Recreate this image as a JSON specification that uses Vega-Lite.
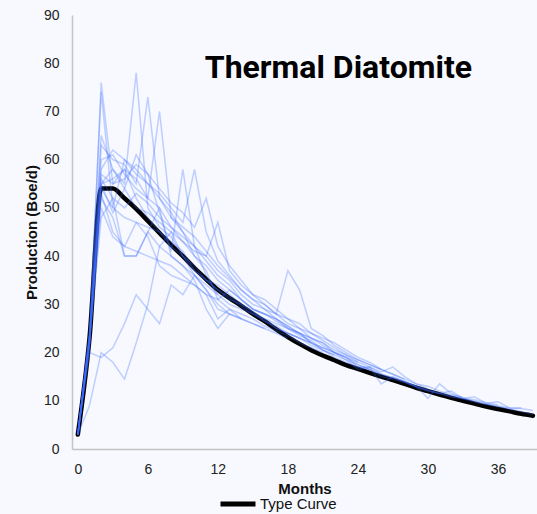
{
"$schema":"https://vega.github.io/schema/vega-lite/v6.json",
"width":465,"height":434,
"autosize":{"type":"none"},
"padding":{"left":72,"top":15,"right":0,"bottom":65},
"background":"#F7F9FE",
"title":{"text":"Thermal Diatomite","font":"Roboto","fontSize":32,"fontWeight":"bold","color":"#000000","anchor":"end","frame":"group","dx":-65,"dy":102,"offset":0,"baseline":"alphabetic"},
"datasets":{
"tc":[
{"s":"Type Curve","m":0,"p":3},{"s":"Type Curve","m":1,"p":23},{"s":"Type Curve","m":2,"p":54},{"s":"Type Curve","m":3,"p":54},{"s":"Type Curve","m":4,"p":52},{"s":"Type Curve","m":5,"p":49.8},{"s":"Type Curve","m":6,"p":47.3},{"s":"Type Curve","m":7,"p":44.8},{"s":"Type Curve","m":8,"p":42.3},{"s":"Type Curve","m":9,"p":40},{"s":"Type Curve","m":10,"p":37.5},{"s":"Type Curve","m":11,"p":35.2},{"s":"Type Curve","m":12,"p":33},{"s":"Type Curve","m":13,"p":31.3},{"s":"Type Curve","m":14,"p":29.7},{"s":"Type Curve","m":15,"p":28},{"s":"Type Curve","m":16,"p":26.5},{"s":"Type Curve","m":17,"p":24.8},{"s":"Type Curve","m":18,"p":23.2},{"s":"Type Curve","m":19,"p":21.8},{"s":"Type Curve","m":20,"p":20.5},{"s":"Type Curve","m":21,"p":19.4},{"s":"Type Curve","m":22,"p":18.4},{"s":"Type Curve","m":23,"p":17.4},{"s":"Type Curve","m":24,"p":16.6},{"s":"Type Curve","m":25,"p":15.8},{"s":"Type Curve","m":26,"p":15},{"s":"Type Curve","m":27,"p":14.3},{"s":"Type Curve","m":28,"p":13.5},{"s":"Type Curve","m":29,"p":12.7},{"s":"Type Curve","m":30,"p":12},{"s":"Type Curve","m":31,"p":11.3},{"s":"Type Curve","m":32,"p":10.6},{"s":"Type Curve","m":33,"p":10},{"s":"Type Curve","m":34,"p":9.4},{"s":"Type Curve","m":35,"p":8.8},{"s":"Type Curve","m":36,"p":8.3},{"s":"Type Curve","m":37,"p":7.8},{"s":"Type Curve","m":38,"p":7.3},{"s":"Type Curve","m":39,"p":6.9}
],
"wells":[
{"w":"W1","m":0,"p":3},{"w":"W1","m":1,"p":22},{"w":"W1","m":2,"p":76},{"w":"W1","m":3,"p":55},{"w":"W1","m":4,"p":58},{"w":"W1","m":5,"p":56},{"w":"W1","m":6,"p":52},{"w":"W1","m":7,"p":50},{"w":"W1","m":8,"p":46},{"w":"W1","m":9,"p":44},{"w":"W1","m":10,"p":42},{"w":"W1","m":11,"p":39},{"w":"W1","m":12,"p":36},{"w":"W1","m":13,"p":34},{"w":"W1","m":14,"p":31},{"w":"W1","m":15,"p":29},{"w":"W1","m":16,"p":28},{"w":"W1","m":17,"p":26.5},{"w":"W1","m":18,"p":25},{"w":"W1","m":19,"p":24},{"w":"W1","m":20,"p":22},{"w":"W1","m":21,"p":21},{"w":"W1","m":22,"p":20},{"w":"W1","m":23,"p":18.5},{"w":"W1","m":24,"p":17.5},{"w":"W1","m":25,"p":16.5},{"w":"W1","m":26,"p":15.5},{"w":"W1","m":27,"p":14.8},{"w":"W1","m":28,"p":14},{"w":"W1","m":29,"p":13},{"w":"W1","m":30,"p":12.2},{"w":"W1","m":31,"p":11.6},{"w":"W1","m":32,"p":11},{"w":"W1","m":33,"p":10.4},{"w":"W1","m":34,"p":9.8},{"w":"W1","m":35,"p":9.3},{"w":"W1","m":36,"p":8.8},{"w":"W1","m":37,"p":8.3},{"w":"W1","m":38,"p":7.8},{"w":"W1","m":39,"p":7.2},
{"w":"W2","m":0,"p":3},{"w":"W2","m":1,"p":24},{"w":"W2","m":2,"p":74},{"w":"W2","m":3,"p":50},{"w":"W2","m":4,"p":60},{"w":"W2","m":5,"p":57},{"w":"W2","m":6,"p":55},{"w":"W2","m":7,"p":52},{"w":"W2","m":8,"p":48},{"w":"W2","m":9,"p":45},{"w":"W2","m":10,"p":42},{"w":"W2","m":11,"p":40},{"w":"W2","m":12,"p":37},{"w":"W2","m":13,"p":35},{"w":"W2","m":14,"p":32},{"w":"W2","m":15,"p":30},{"w":"W2","m":16,"p":29},{"w":"W2","m":17,"p":27},{"w":"W2","m":18,"p":25.5},{"w":"W2","m":19,"p":24},{"w":"W2","m":20,"p":23},{"w":"W2","m":21,"p":21.5},{"w":"W2","m":22,"p":20},{"w":"W2","m":23,"p":19},{"w":"W2","m":24,"p":17},{"w":"W2","m":25,"p":16.5},{"w":"W2","m":26,"p":15},{"w":"W2","m":27,"p":14.5},{"w":"W2","m":28,"p":13.8},{"w":"W2","m":29,"p":13},{"w":"W2","m":30,"p":12.2},{"w":"W2","m":31,"p":11.5},{"w":"W2","m":32,"p":10.8},{"w":"W2","m":33,"p":10.5},{"w":"W2","m":34,"p":9.9},{"w":"W2","m":35,"p":9.3},{"w":"W2","m":36,"p":8.9},{"w":"W2","m":37,"p":8.5},{"w":"W2","m":38,"p":8.4},{"w":"W2","m":39,"p":8},
{"w":"W3","m":0,"p":3},{"w":"W3","m":1,"p":23},{"w":"W3","m":2,"p":65},{"w":"W3","m":3,"p":58},{"w":"W3","m":4,"p":55},{"w":"W3","m":5,"p":78},{"w":"W3","m":6,"p":50},{"w":"W3","m":7,"p":46},{"w":"W3","m":8,"p":44},{"w":"W3","m":9,"p":40},{"w":"W3","m":10,"p":37},{"w":"W3","m":11,"p":35},{"w":"W3","m":12,"p":33},{"w":"W3","m":13,"p":31.5},{"w":"W3","m":14,"p":29.5},{"w":"W3","m":15,"p":28},{"w":"W3","m":16,"p":26.5},{"w":"W3","m":17,"p":25},{"w":"W3","m":18,"p":24},{"w":"W3","m":19,"p":23},{"w":"W3","m":20,"p":21.5},{"w":"W3","m":21,"p":20.5},{"w":"W3","m":22,"p":19},{"w":"W3","m":23,"p":18},{"w":"W3","m":24,"p":17},{"w":"W3","m":25,"p":17},{"w":"W3","m":26,"p":13.5},{"w":"W3","m":27,"p":15},{"w":"W3","m":28,"p":14},{"w":"W3","m":29,"p":13},{"w":"W3","m":30,"p":10.5},{"w":"W3","m":31,"p":13.5},{"w":"W3","m":32,"p":11.5},{"w":"W3","m":33,"p":10.5},{"w":"W3","m":34,"p":10.8},{"w":"W3","m":35,"p":9.5},{"w":"W3","m":36,"p":9.8},{"w":"W3","m":37,"p":8.5},{"w":"W3","m":38,"p":8.5},
{"w":"W4","m":0,"p":3},{"w":"W4","m":1,"p":22},{"w":"W4","m":2,"p":63},{"w":"W4","m":3,"p":60},{"w":"W4","m":4,"p":59},{"w":"W4","m":5,"p":55},{"w":"W4","m":6,"p":73},{"w":"W4","m":7,"p":52},{"w":"W4","m":8,"p":49},{"w":"W4","m":9,"p":45},{"w":"W4","m":10,"p":40},{"w":"W4","m":11,"p":38},{"w":"W4","m":12,"p":35},{"w":"W4","m":13,"p":33},{"w":"W4","m":14,"p":31},{"w":"W4","m":15,"p":29},{"w":"W4","m":16,"p":28},{"w":"W4","m":17,"p":27},{"w":"W4","m":18,"p":25},{"w":"W4","m":19,"p":23.5},{"w":"W4","m":20,"p":22.5},{"w":"W4","m":21,"p":20.5},{"w":"W4","m":22,"p":19.5},{"w":"W4","m":23,"p":18.5},{"w":"W4","m":24,"p":16.5},{"w":"W4","m":25,"p":17},{"w":"W4","m":26,"p":15.5},{"w":"W4","m":27,"p":14.8},{"w":"W4","m":28,"p":14},{"w":"W4","m":29,"p":12.8},{"w":"W4","m":30,"p":12},{"w":"W4","m":31,"p":11.5},{"w":"W4","m":32,"p":12},{"w":"W4","m":33,"p":10.5},{"w":"W4","m":34,"p":10.2},{"w":"W4","m":35,"p":9.6},{"w":"W4","m":36,"p":9.2},
{"w":"W5","m":0,"p":3},{"w":"W5","m":1,"p":21},{"w":"W5","m":2,"p":60},{"w":"W5","m":3,"p":61},{"w":"W5","m":4,"p":57},{"w":"W5","m":5,"p":54},{"w":"W5","m":6,"p":52},{"w":"W5","m":7,"p":70},{"w":"W5","m":8,"p":48},{"w":"W5","m":9,"p":46},{"w":"W5","m":10,"p":44},{"w":"W5","m":11,"p":41},{"w":"W5","m":12,"p":38},{"w":"W5","m":13,"p":35.5},{"w":"W5","m":14,"p":33},{"w":"W5","m":15,"p":31},{"w":"W5","m":16,"p":29},{"w":"W5","m":17,"p":28},{"w":"W5","m":18,"p":26},{"w":"W5","m":19,"p":25},{"w":"W5","m":20,"p":23},{"w":"W5","m":21,"p":22},{"w":"W5","m":22,"p":20.5},{"w":"W5","m":23,"p":19.5},{"w":"W5","m":24,"p":18.5},{"w":"W5","m":25,"p":17.5},{"w":"W5","m":26,"p":16.5},{"w":"W5","m":27,"p":15.5},{"w":"W5","m":28,"p":14.5},{"w":"W5","m":29,"p":13.5},{"w":"W5","m":30,"p":13},{"w":"W5","m":31,"p":12},{"w":"W5","m":32,"p":11.2},{"w":"W5","m":33,"p":10.8},
{"w":"W6","m":0,"p":3},{"w":"W6","m":1,"p":23},{"w":"W6","m":2,"p":58},{"w":"W6","m":3,"p":62},{"w":"W6","m":4,"p":60},{"w":"W6","m":5,"p":58},{"w":"W6","m":6,"p":55},{"w":"W6","m":7,"p":53},{"w":"W6","m":8,"p":50},{"w":"W6","m":9,"p":47},{"w":"W6","m":10,"p":58},{"w":"W6","m":11,"p":45},{"w":"W6","m":12,"p":39},{"w":"W6","m":13,"p":36},{"w":"W6","m":14,"p":33},{"w":"W6","m":15,"p":31},{"w":"W6","m":16,"p":30},{"w":"W6","m":17,"p":28},{"w":"W6","m":18,"p":27},{"w":"W6","m":19,"p":25},{"w":"W6","m":20,"p":24},{"w":"W6","m":21,"p":22.5},{"w":"W6","m":22,"p":21},{"w":"W6","m":23,"p":19.5},{"w":"W6","m":24,"p":18},{"w":"W6","m":25,"p":17},{"w":"W6","m":26,"p":16},{"w":"W6","m":27,"p":17},{"w":"W6","m":28,"p":15},{"w":"W6","m":29,"p":13.5},{"w":"W6","m":30,"p":12.5},
{"w":"W7","m":0,"p":3},{"w":"W7","m":1,"p":24},{"w":"W7","m":2,"p":57},{"w":"W7","m":3,"p":55},{"w":"W7","m":4,"p":56},{"w":"W7","m":5,"p":59},{"w":"W7","m":6,"p":57},{"w":"W7","m":7,"p":54},{"w":"W7","m":8,"p":51},{"w":"W7","m":9,"p":49},{"w":"W7","m":10,"p":46},{"w":"W7","m":11,"p":52},{"w":"W7","m":12,"p":42},{"w":"W7","m":13,"p":38},{"w":"W7","m":14,"p":35},{"w":"W7","m":15,"p":32},{"w":"W7","m":16,"p":31},{"w":"W7","m":17,"p":29},{"w":"W7","m":18,"p":27},{"w":"W7","m":19,"p":26},{"w":"W7","m":20,"p":24},{"w":"W7","m":21,"p":23},{"w":"W7","m":22,"p":22},{"w":"W7","m":23,"p":20.5},{"w":"W7","m":24,"p":19},{"w":"W7","m":25,"p":18},{"w":"W7","m":26,"p":16.5},{"w":"W7","m":27,"p":15.5},{"w":"W7","m":28,"p":14.5},
{"w":"W8","m":0,"p":3},{"w":"W8","m":1,"p":22},{"w":"W8","m":2,"p":56},{"w":"W8","m":3,"p":52},{"w":"W8","m":4,"p":50},{"w":"W8","m":5,"p":53},{"w":"W8","m":6,"p":51},{"w":"W8","m":7,"p":48},{"w":"W8","m":8,"p":46},{"w":"W8","m":9,"p":43},{"w":"W8","m":10,"p":41},{"w":"W8","m":11,"p":40},{"w":"W8","m":12,"p":47},{"w":"W8","m":13,"p":37},{"w":"W8","m":14,"p":34},{"w":"W8","m":15,"p":32},{"w":"W8","m":16,"p":30},{"w":"W8","m":17,"p":28},{"w":"W8","m":18,"p":37},{"w":"W8","m":19,"p":33},{"w":"W8","m":20,"p":25},{"w":"W8","m":21,"p":23.5},{"w":"W8","m":22,"p":21.5},{"w":"W8","m":23,"p":20},{"w":"W8","m":24,"p":18.5},{"w":"W8","m":25,"p":17.5},{"w":"W8","m":26,"p":16.5},
{"w":"W9","m":0,"p":3},{"w":"W9","m":1,"p":23},{"w":"W9","m":2,"p":55},{"w":"W9","m":3,"p":56},{"w":"W9","m":4,"p":58},{"w":"W9","m":5,"p":52},{"w":"W9","m":6,"p":48},{"w":"W9","m":7,"p":45},{"w":"W9","m":8,"p":42},{"w":"W9","m":9,"p":40},{"w":"W9","m":10,"p":38},{"w":"W9","m":11,"p":35},{"w":"W9","m":12,"p":33},{"w":"W9","m":13,"p":31},{"w":"W9","m":14,"p":30},{"w":"W9","m":15,"p":28.5},{"w":"W9","m":16,"p":27},{"w":"W9","m":17,"p":26},{"w":"W9","m":18,"p":25},{"w":"W9","m":19,"p":24},{"w":"W9","m":20,"p":22},{"w":"W9","m":21,"p":21},{"w":"W9","m":22,"p":20},{"w":"W9","m":23,"p":19},{"w":"W9","m":24,"p":17.5},{"w":"W9","m":25,"p":16.5},
{"w":"W10","m":0,"p":3},{"w":"W10","m":1,"p":22},{"w":"W10","m":2,"p":55},{"w":"W10","m":3,"p":58},{"w":"W10","m":4,"p":54},{"w":"W10","m":5,"p":50},{"w":"W10","m":6,"p":49},{"w":"W10","m":7,"p":47},{"w":"W10","m":8,"p":45},{"w":"W10","m":9,"p":43},{"w":"W10","m":10,"p":40},{"w":"W10","m":11,"p":37},{"w":"W10","m":12,"p":31},{"w":"W10","m":13,"p":33},{"w":"W10","m":14,"p":31},{"w":"W10","m":15,"p":29},{"w":"W10","m":16,"p":28},{"w":"W10","m":17,"p":27},{"w":"W10","m":18,"p":25.5},{"w":"W10","m":19,"p":24},{"w":"W10","m":20,"p":23},{"w":"W10","m":21,"p":22},{"w":"W10","m":22,"p":20},{"w":"W10","m":23,"p":19},{"w":"W10","m":24,"p":18},
{"w":"W11","m":0,"p":3},{"w":"W11","m":1,"p":23},{"w":"W11","m":2,"p":54},{"w":"W11","m":3,"p":50},{"w":"W11","m":4,"p":48},{"w":"W11","m":5,"p":47},{"w":"W11","m":6,"p":46},{"w":"W11","m":7,"p":45},{"w":"W11","m":8,"p":43},{"w":"W11","m":9,"p":41},{"w":"W11","m":10,"p":37},{"w":"W11","m":11,"p":35},{"w":"W11","m":12,"p":34},{"w":"W11","m":13,"p":32},{"w":"W11","m":14,"p":30},{"w":"W11","m":15,"p":28.5},{"w":"W11","m":16,"p":26.5},{"w":"W11","m":17,"p":25.5},{"w":"W11","m":18,"p":24},{"w":"W11","m":19,"p":23},{"w":"W11","m":20,"p":22},{"w":"W11","m":21,"p":20.5},{"w":"W11","m":22,"p":19.5},
{"w":"W12","m":0,"p":3},{"w":"W12","m":1,"p":24},{"w":"W12","m":2,"p":53},{"w":"W12","m":3,"p":45},{"w":"W12","m":4,"p":42},{"w":"W12","m":5,"p":41},{"w":"W12","m":6,"p":40},{"w":"W12","m":7,"p":39},{"w":"W12","m":8,"p":38},{"w":"W12","m":9,"p":36},{"w":"W12","m":10,"p":34},{"w":"W12","m":11,"p":32},{"w":"W12","m":12,"p":31},{"w":"W12","m":13,"p":29},{"w":"W12","m":14,"p":28},{"w":"W12","m":15,"p":27},{"w":"W12","m":16,"p":25.5},{"w":"W12","m":17,"p":24.5},{"w":"W12","m":18,"p":23.5},{"w":"W12","m":19,"p":22},{"w":"W12","m":20,"p":21},{"w":"W12","m":21,"p":20},
{"w":"W13","m":0,"p":3},{"w":"W13","m":1,"p":22},{"w":"W13","m":2,"p":52},{"w":"W13","m":3,"p":48},{"w":"W13","m":4,"p":40},{"w":"W13","m":5,"p":40},{"w":"W13","m":6,"p":45},{"w":"W13","m":7,"p":42},{"w":"W13","m":8,"p":40},{"w":"W13","m":9,"p":38},{"w":"W13","m":10,"p":36},{"w":"W13","m":11,"p":34},{"w":"W13","m":12,"p":32},{"w":"W13","m":13,"p":30},{"w":"W13","m":14,"p":29},{"w":"W13","m":15,"p":28},{"w":"W13","m":16,"p":27},{"w":"W13","m":17,"p":25},{"w":"W13","m":18,"p":24},{"w":"W13","m":19,"p":23},{"w":"W13","m":20,"p":22},
{"w":"W14","m":0,"p":3},{"w":"W14","m":1,"p":23},{"w":"W14","m":2,"p":50},{"w":"W14","m":3,"p":44},{"w":"W14","m":4,"p":42},{"w":"W14","m":5,"p":47},{"w":"W14","m":6,"p":44},{"w":"W14","m":7,"p":38},{"w":"W14","m":8,"p":36},{"w":"W14","m":9,"p":35},{"w":"W14","m":10,"p":34},{"w":"W14","m":11,"p":32},{"w":"W14","m":12,"p":27},{"w":"W14","m":13,"p":29},{"w":"W14","m":14,"p":27},{"w":"W14","m":15,"p":26},{"w":"W14","m":16,"p":25},{"w":"W14","m":17,"p":24},{"w":"W14","m":18,"p":23},
{"w":"W15","m":0,"p":3},{"w":"W15","m":1,"p":9},{"w":"W15","m":2,"p":20},{"w":"W15","m":3,"p":18},{"w":"W15","m":4,"p":14.5},{"w":"W15","m":5,"p":22},{"w":"W15","m":6,"p":30},{"w":"W15","m":7,"p":42},{"w":"W15","m":8,"p":45},{"w":"W15","m":9,"p":40},{"w":"W15","m":10,"p":36},{"w":"W15","m":11,"p":33},{"w":"W15","m":12,"p":30},{"w":"W15","m":13,"p":28},{"w":"W15","m":14,"p":27},{"w":"W15","m":15,"p":26},{"w":"W15","m":16,"p":25},
{"w":"W16","m":0,"p":3},{"w":"W16","m":1,"p":20},{"w":"W16","m":2,"p":19},{"w":"W16","m":3,"p":21},{"w":"W16","m":4,"p":26},{"w":"W16","m":5,"p":32},{"w":"W16","m":6,"p":29},{"w":"W16","m":7,"p":26},{"w":"W16","m":8,"p":34},{"w":"W16","m":9,"p":32},{"w":"W16","m":10,"p":36},{"w":"W16","m":11,"p":33},{"w":"W16","m":12,"p":29},{"w":"W16","m":13,"p":28},{"w":"W16","m":14,"p":27},
{"w":"W17","m":0,"p":3},{"w":"W17","m":1,"p":22},{"w":"W17","m":2,"p":48},{"w":"W17","m":3,"p":52},{"w":"W17","m":4,"p":40},{"w":"W17","m":5,"p":40},{"w":"W17","m":6,"p":45},{"w":"W17","m":7,"p":50},{"w":"W17","m":8,"p":40},{"w":"W17","m":9,"p":38},{"w":"W17","m":10,"p":35},{"w":"W17","m":11,"p":29},{"w":"W17","m":12,"p":25},{"w":"W17","m":13,"p":28},
{"w":"W18","m":0,"p":3},{"w":"W18","m":1,"p":23},{"w":"W18","m":2,"p":55},{"w":"W18","m":3,"p":49},{"w":"W18","m":4,"p":54},{"w":"W18","m":5,"p":61},{"w":"W18","m":6,"p":57},{"w":"W18","m":7,"p":49},{"w":"W18","m":8,"p":41},{"w":"W18","m":9,"p":58},{"w":"W18","m":10,"p":42},{"w":"W18","m":11,"p":36},{"w":"W18","m":12,"p":32}
]},
"layer":[
{"data":{"name":"tc"},
 "mark":{"type":"line","strokeWidth":4.5,"interpolate":"monotone","strokeCap":"round","strokeJoin":"round"},
 "encoding":{
  "x":{"field":"m","type":"quantitative","scale":{"domain":[-0.5,39.35],"nice":false,"zero":false},
       "axis":{"title":"Months","values":[0,6,12,18,24,30,36]}},
  "y":{"field":"p","type":"quantitative","scale":{"domain":[0,90],"nice":false},
       "axis":{"title":"Production (Boe/d)","values":[0,10,20,30,40,50,60,70,80,90]}},
  "color":{"field":"s","type":"nominal","scale":{"domain":["Type Curve"],"range":["#000000"]},
       "legend":{"title":null,"orient":"none","legendX":146,"legendY":469,"symbolType":"stroke","symbolSize":1225,"symbolStrokeWidth":5,"labelFont":"Liberation Sans","labelFontSize":15,"labelColor":"#111111","labelOffset":2}}
 }},
{"data":{"name":"wells"},
 "mark":{"type":"line","strokeWidth":1.5,"color":"#3D6BFF","strokeOpacity":0.3},
 "encoding":{
  "x":{"field":"m","type":"quantitative"},
  "y":{"field":"p","type":"quantitative"},
  "detail":{"field":"w","type":"nominal"}
 }}
],
"config":{
 "view":{"stroke":null},
 "axis":{"ticks":false,"grid":false,"domainColor":"#C4C4C4","domainWidth":1.5,"labelFont":"Liberation Sans","labelFontSize":14,"labelColor":"#222222","titleFont":"Liberation Sans","titleFontSize":15,"titleFontWeight":"bold","titleColor":"#111111"},
 "axisX":{"labelPadding":13,"titlePadding":5},
 "axisY":{"labelPadding":13,"titlePadding":4}
}
}
